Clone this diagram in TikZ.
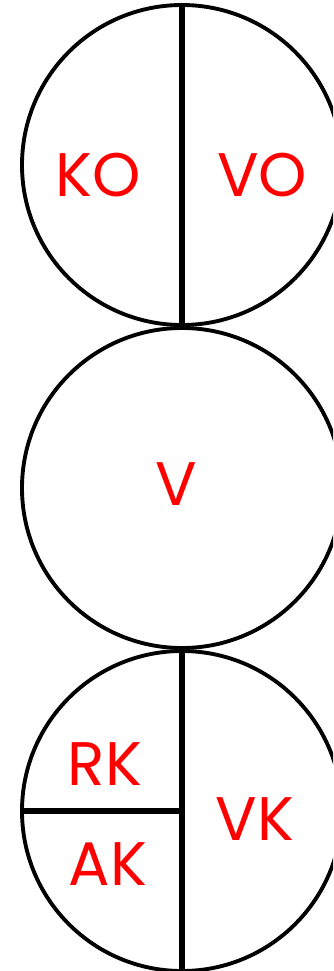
\documentclass[tikz,border=0pt]{standalone}
\usepackage{fontspec}
\setmainfont{Poppins}
\usepackage{tikz}
\usetikzlibrary{positioning}

\begin{document}
\begin{tikzpicture}[
        part/.style={draw, circle, minimum size=6.4cm, line width=2.2pt, outer sep=0pt, inner sep=0pt},
        divider/.style={line width=3.3pt},
        lbl/.style={text=red, font=\fontsize{35}{35}\selectfont, inner sep=0pt}
    ]
        % frame
        \clip (0,0) rectangle (6.66,-19.42);

        % Top circle
        \node (c1) [part] at (3.64,-3.30) {};
        \draw [divider] (c1.north) -- (c1.south);
        \node (ko) [lbl, shift={(-1.68,-0.2)}] at (c1) {KO};
        \node (vo) [lbl, shift={(1.6,-0.2)}] at (c1) {VO};

        % Middle circle
        \node (c2) [part, below=0.06cm of c1] {};
        \node (v) [lbl, shift={(-0.12,0.08)}] at (c2) {V};

        % Bottom circle
        \node (c3) [part, below=0.06cm of c2] {};
        \draw [divider] (c3.north) -- (c3.south);
        \draw [divider] (c3.west) -- (c3.center);
        \node (rk) [lbl, shift={(-1.54,0.94)}] at (c3) {RK};
        \node (ak) [lbl, shift={(-1.48,-1.06)}] at (c3) {AK};
        \node (vk) [lbl, shift={(1.46,-0.16)}] at (c3) {VK};
    \end{tikzpicture}
\end{document}
